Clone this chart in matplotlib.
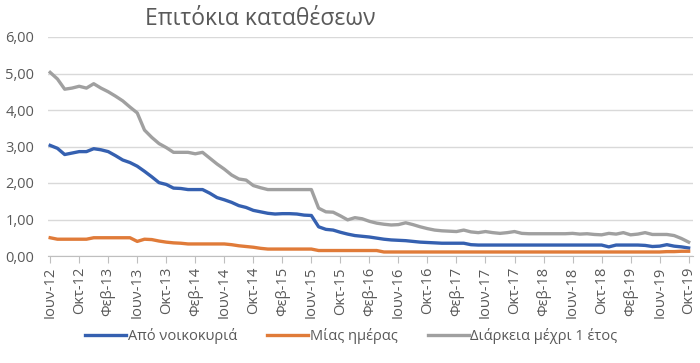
import matplotlib
matplotlib.use("Agg")
import matplotlib.pyplot as plt
import numpy as np

plt.rcParams['font.family'] = ['Open Sans', 'DejaVu Sans']

# Monthly data: Jun-2012 .. Oct-2019 (89 months)
month_names = ["Ιαν", "Φεβ", "Μαρ", "Απρ", "Μαϊ", "Ιουν", "Ιουλ", "Αυγ", "Σεπ", "Οκτ", "Νοε", "Δεκ"]

households = [3.03, 2.95, 2.78, 2.82, 2.86, 2.86, 2.94, 2.91, 2.86, 2.75, 2.63, 2.56,
              2.46, 2.32, 2.17, 2.01, 1.96, 1.86, 1.85, 1.82, 1.82, 1.82, 1.72, 1.60,
              1.54, 1.47, 1.38, 1.33, 1.25, 1.21, 1.17, 1.15, 1.16, 1.16, 1.15, 1.12,
              1.11, 0.80, 0.73, 0.71, 0.65, 0.60, 0.56, 0.54, 0.52, 0.49, 0.46, 0.44,
              0.43, 0.42, 0.40, 0.38, 0.37, 0.36, 0.35, 0.35, 0.35, 0.35, 0.31, 0.30,
              0.30, 0.30, 0.30, 0.30, 0.30, 0.30, 0.30, 0.30, 0.30, 0.30, 0.30, 0.30,
              0.30, 0.30, 0.30, 0.30, 0.30, 0.25, 0.30, 0.30, 0.30, 0.30, 0.29, 0.26,
              0.27, 0.31, 0.27, 0.25, 0.22]

overnight = [0.50, 0.46, 0.46, 0.46, 0.46, 0.46, 0.50, 0.50, 0.50, 0.50, 0.50, 0.50,
             0.40, 0.46, 0.45, 0.41, 0.38, 0.36, 0.35, 0.33, 0.33, 0.33, 0.33, 0.33,
             0.33, 0.31, 0.28, 0.26, 0.24, 0.21, 0.19, 0.19, 0.19, 0.19, 0.19, 0.19,
             0.19, 0.15, 0.15, 0.15, 0.15, 0.15, 0.15, 0.15, 0.15, 0.15, 0.11, 0.11,
             0.11, 0.11, 0.11, 0.11, 0.11, 0.11, 0.11, 0.11, 0.11, 0.11, 0.11, 0.11,
             0.11, 0.11, 0.11, 0.11, 0.11, 0.11, 0.11, 0.11, 0.11, 0.11, 0.11, 0.11,
             0.11, 0.11, 0.11, 0.11, 0.11, 0.11, 0.11, 0.11, 0.11, 0.11, 0.11, 0.11,
             0.11, 0.12, 0.12, 0.13, 0.13]

upto1y = [5.03, 4.85, 4.57, 4.60, 4.65, 4.60, 4.72, 4.60, 4.50, 4.38, 4.25, 4.08,
          3.92, 3.45, 3.25, 3.08, 2.97, 2.84, 2.84, 2.84, 2.80, 2.84, 2.68, 2.52,
          2.38, 2.22, 2.11, 2.08, 1.93, 1.87, 1.82, 1.82, 1.82, 1.82, 1.82, 1.82,
          1.82, 1.31, 1.21, 1.20, 1.10, 0.99, 1.05, 1.02, 0.95, 0.90, 0.87, 0.85,
          0.86, 0.91, 0.86, 0.80, 0.75, 0.71, 0.69, 0.68, 0.67, 0.71, 0.66, 0.64,
          0.67, 0.64, 0.62, 0.64, 0.67, 0.62, 0.61, 0.61, 0.61, 0.61, 0.61, 0.61,
          0.62, 0.60, 0.61, 0.59, 0.58, 0.62, 0.60, 0.64, 0.58, 0.60, 0.64, 0.59,
          0.59, 0.59, 0.56, 0.48, 0.38]

series_names = ["Από νοικοκυριά", "Μίας ημέρας", "Διάρκεια μέχρι 1 έτος"]
colors = ["#3560B0", "#E07B39", "#A0A0A0"]

n = len(households)
labels = []
for i in range(n):
    m = (5 + i) % 12
    y = 2012 + (5 + i) // 12
    labels.append(f"{month_names[m]}-{y % 100:02d}")

fig = plt.figure(figsize=(7.0, 3.63), dpi=100)
ax = fig.add_axes([48/700, 1 - 256/363, (693-48)/700, (256-37)/363])

x = np.arange(n)
lines = []
for data, name, c in zip([households, overnight, upto1y], series_names, colors):
    ln, = ax.plot(x, data, color=c, lw=2.4, label=name, solid_joinstyle='round')
    lines.append(ln)

ax.set_xlim(-0.3, 88.6)
ax.set_ylim(0, 6)
ax.set_yticks(np.arange(0, 7, 1))
ax.set_yticklabels([f"{v:.2f}".replace('.', ',') for v in np.arange(0, 7, 1)])
ax.yaxis.grid(True, color="#D9D9D9", lw=1)
ax.set_axisbelow(True)
ticks = list(range(0, n, 4))
ax.set_xticks(ticks)
ax.set_xticklabels([labels[t] for t in ticks], rotation=90)

for s in ['top', 'right', 'left']:
    ax.spines[s].set_visible(False)
ax.spines['bottom'].set_color("#BFBFBF")
ax.tick_params(axis='y', length=0, labelsize=10.5, labelcolor="#595959", pad=10)
ax.tick_params(axis='x', length=5, color="#BFBFBF", labelsize=10.5, labelcolor="#595959", pad=3)

fig.text(145/700, 1 - 19/363, "Επιτόκια καταθέσεων", fontsize=16.5, color="#595959",
         ha='left', va='center')

fig.legend(handles=lines, loc='center', bbox_to_anchor=(0.502, 1 - 336/363), ncol=3,
           frameon=False, fontsize=10.5, handlelength=2.8, handletextpad=0.1,
           columnspacing=2.1, labelcolor="#595959")

fig.savefig("out.png", dpi=100)
